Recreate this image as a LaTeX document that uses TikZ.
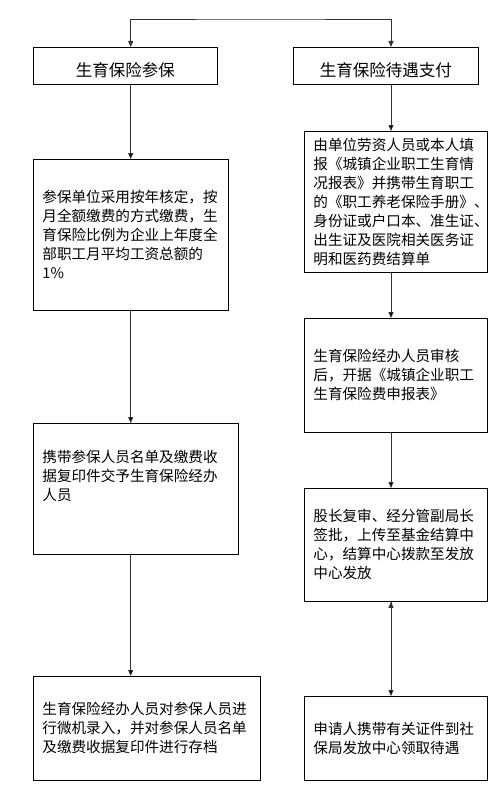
\documentclass[tikz,border=0pt]{standalone}
\usepackage{fontspec}
\newfontfamily\cjk{Noto Sans CJK SC}
\usetikzlibrary{arrows.meta}
\tikzset{
  >={Triangle[width=5pt,length=6pt]},
  title_box/.style={rectangle, draw=black, line width=0.8pt, anchor=north west,
    inner sep=0pt, text height=24pt, text depth=2pt,
    font=\cjk\fontsize{16.5}{20}\selectfont},
  step_box/.style={rectangle, draw=black, line width=0.8pt, anchor=north west,
    inner xsep=9pt, inner ysep=0pt, align=left,
    font=\cjk\fontsize{14.6}{19}\selectfont},
  flow/.style={draw=black!80, line width=0.8pt}}

\begin{document}
\begin{tikzpicture}[x=1pt, y=-1pt]
\useasboundingbox (0,0) rectangle (500,800);

% the two columns
\coordinate (colL) at (130.7,0);
\coordinate (colR) at (391,0);
\coordinate (fork) at (261,19);

% headings
\node[title_box, minimum width=184pt, minimum height=37pt] (hdA) at (33,47) {生育保险参保};
\node[title_box, minimum width=185pt, minimum height=37pt] (hdB) at (293,47) {生育保险待遇支付};

% left column
\node[step_box, text width=177pt, minimum height=151pt] (stA1) at (33,159)
  {参保单位采用按年核定，按\\月全额缴费的方式缴费，生\\育保险比例为企业上年度全\\部职工月平均工资总额的\\1\%};
\node[step_box, text width=187pt, minimum height=131pt] (stA2) at (33,423)
  {携带参保人员名单及缴费收\\据复印件交予生育保险经办\\人员\\[9pt]\mbox{}};
\node[step_box, text width=209pt, minimum height=104pt] (stA3) at (33,676)
  {生育保险经办人员对参保人员进\\行微机录入，并对参保人员名单\\及缴费收据复印件进行存档};

% right column
\node[step_box, text width=165pt, minimum height=141pt] (stB1) at (304,131)
  {由单位劳资人员或本人填\\报《城镇企业职工生育情\\况报表》并携带生育职工\\的《职工养老保险手册》、\\身份证或户口本、准生证、\\出生证及医院相关医务证\\明和医药费结算单};
\node[step_box, text width=165pt, minimum height=114pt] (stB2) at (304,318)
  {生育保险经办人员审核\\后，开据《城镇企业职工\\生育保险费申报表》};
\node[step_box, text width=165pt, minimum height=113pt] (stB3) at (304,488)
  {股长复审、经分管副局长\\签批，上传至基金结算中\\心，结算中心拨款至发放\\中心发放};
\node[step_box, text width=165pt, minimum height=84pt] (stB4) at (304,696)
  {申请人携带有关证件到社\\保局发放中心领取待遇};

% top split
\draw[flow, <->] (hdA.north -| colL) |- (fork) -| (hdB.north -| colR);

\path[flow, ->]
  % left arrows
  (hdA.south -| colL) edge (stA1.north -| colL)
  (stA1.south -| colL) edge (stA2.north -| colL)
  (stA2.south -| colL) edge (stA3.north -| colL)
  % right arrows
  (hdB.south -| colR) edge (stB1.north -| colR)
  (stB1.south -| colR) edge (stB2.north -| colR)
  (stB2.south -| colR) edge (stB3.north -| colR)
  (stB3.south -| colR) edge (stB4.north -| colR);
\end{tikzpicture}
\end{document}
